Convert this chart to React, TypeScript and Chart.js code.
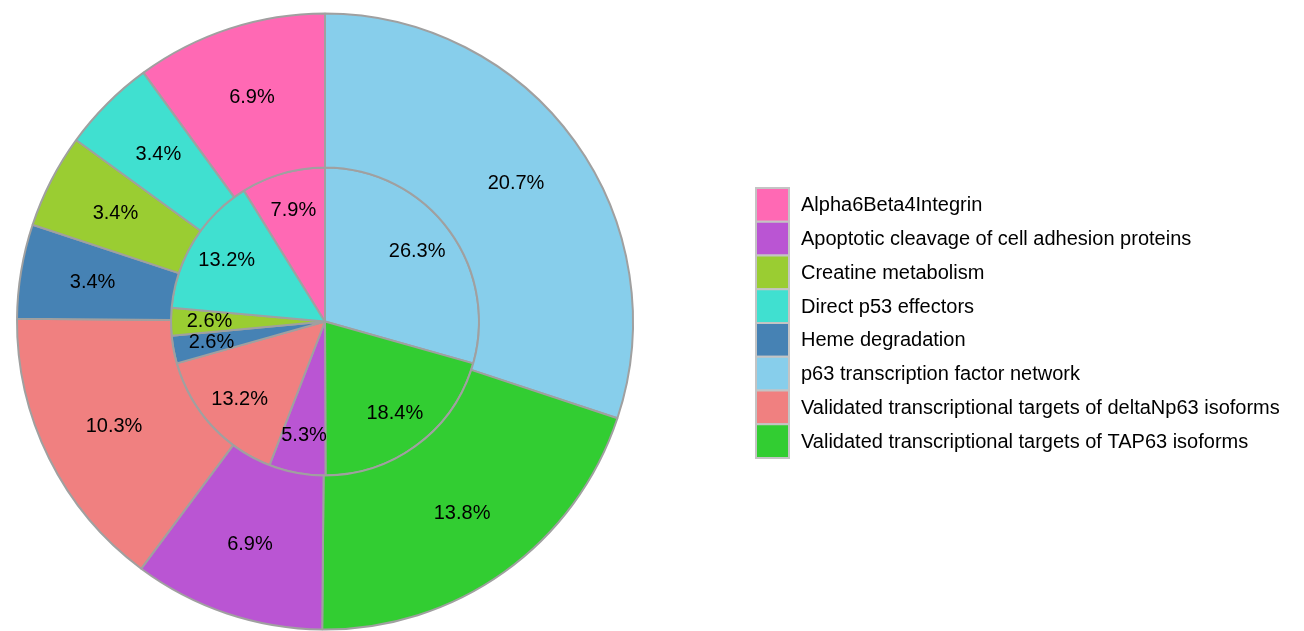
import React, { useEffect, useRef } from "react";
import { Chart, registerables } from "chart.js";

Chart.register(...registerables);

// Slices in clockwise order starting at 12 o'clock
const categories = [
  "p63 transcription factor network",
  "Validated transcriptional targets of TAP63 isoforms",
  "Apoptotic cleavage of cell adhesion proteins",
  "Validated transcriptional targets of deltaNp63 isoforms",
  "Heme degradation",
  "Creatine metabolism",
  "Direct p53 effectors",
  "Alpha6Beta4Integrin",
];
const innerValues = [26.3, 18.4, 5.3, 13.2, 2.6, 2.6, 13.2, 7.9];
const outerValues = [20.7, 13.8, 6.9, 10.3, 3.4, 3.4, 3.4, 6.9];
const sliceColors = [
  "#87CEEB",
  "#32CD32",
  "#BA55D3",
  "#F08080",
  "#4682B4",
  "#9ACD32",
  "#40E0D0",
  "#FF69B4",
];

const FONT = '"Liberation Sans", Arial, Helvetica, sans-serif';

const sliceLabels = {
  id: "sliceLabels",
  afterDatasetsDraw(chart: any) {
    const ctx = chart.ctx;
    ctx.save();
    ctx.font = `20px ${FONT}`;
    ctx.fillStyle = "#000";
    ctx.textAlign = "center";
    ctx.textBaseline = "middle";
    chart.data.datasets.forEach((ds: any, di: number) => {
      const meta = chart.getDatasetMeta(di);
      const frac = di === 0 ? 0.765 : 0.75;
      meta.data.forEach((arc: any, i: number) => {
        const { x, y, startAngle, endAngle, outerRadius } = arc.getProps(
          ["x", "y", "startAngle", "endAngle", "outerRadius"],
          true
        );
        const mid = (startAngle + endAngle) / 2;
        const r = outerRadius * frac;
        ctx.fillText(
          Number(ds.data[i]).toFixed(1) + "%",
          x + Math.cos(mid) * r,
          y + Math.sin(mid) * r
        );
      });
    });
    ctx.restore();
  },
};

const sideLegend = {
  id: "sideLegend",
  afterDraw(chart: any) {
    const ctx = chart.ctx;
    const order = categories
      .map((c, i) => ({ c, i }))
      .sort((a, b) => a.c.toLowerCase().localeCompare(b.c.toLowerCase()));
    const boxX = 756;
    const boxW = 33;
    const top = 188;
    const rowH = 33.75;
    ctx.save();
    ctx.font = `20px ${FONT}`;
    ctx.textAlign = "left";
    ctx.textBaseline = "middle";
    order.forEach((item, k) => {
      const y = top + k * rowH;
      ctx.fillStyle = sliceColors[item.i];
      ctx.fillRect(boxX, y, boxW, rowH);
      ctx.strokeStyle = "#c4c4c4";
      ctx.lineWidth = 2;
      ctx.strokeRect(boxX, y, boxW, rowH);
      ctx.fillStyle = "#000";
      ctx.fillText(item.c, 801, y + rowH / 2 + 1);
    });
    ctx.restore();
  },
};

export default function App() {
  const canvasRef = useRef<HTMLCanvasElement | null>(null);

  useEffect(() => {
    if (!canvasRef.current) return;
    const chart = new Chart(canvasRef.current, {
      type: "pie",
      data: {
        labels: categories,
        datasets: [
          {
            data: outerValues,
            backgroundColor: sliceColors,
            borderColor: "#a0a0a0",
            borderWidth: 2,
          },
          {
            data: innerValues,
            backgroundColor: sliceColors,
            borderColor: "#a0a0a0",
            borderWidth: 2,
          },
        ],
      },
      options: {
        animation: false,
        responsive: true,
        maintainAspectRatio: false,
        layout: { padding: { top: 12, bottom: 0, left: 16, right: 670 } },
        plugins: {
          legend: { display: false },
          tooltip: { enabled: false },
        },
      },
      plugins: [sliceLabels, sideLegend],
    });
    return () => chart.destroy();
  }, []);

  return (
    <div
      style={{
        position: "fixed",
        left: 0,
        top: 0,
        width: 1304,
        height: 631,
        background: "#fff",
      }}
    >
      <canvas ref={canvasRef} />
    </div>
  );
}
